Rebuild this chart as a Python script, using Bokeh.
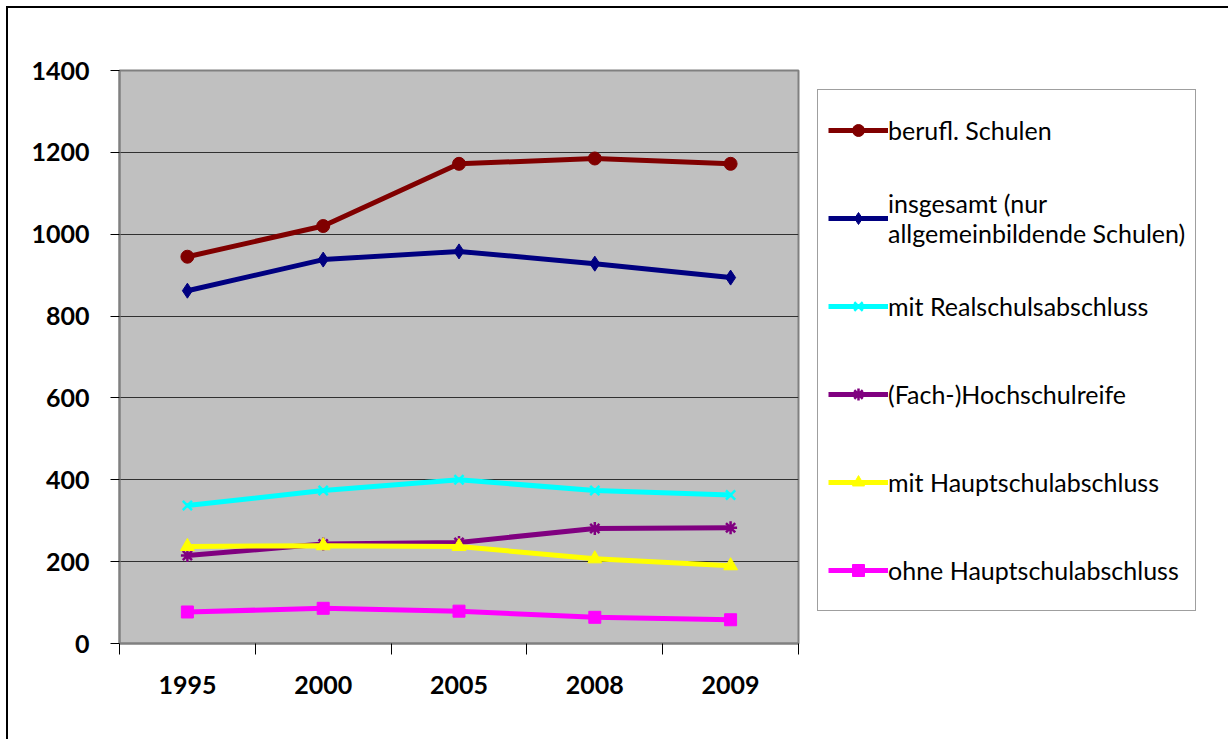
from bokeh.plotting import figure
from bokeh.models import FixedTicker, Legend, LegendItem
from bokeh.embed import file_html
from bokeh.resources import INLINE

years = ["1995", "2000", "2005", "2008", "2009"]
berufl = [945, 1020, 1172, 1185, 1172]
insgesamt = [862, 938, 958, 928, 894]
realschul = [337, 374, 400, 374, 363]
hochschulreife = [215, 243, 247, 281, 283]
hauptschul = [237, 239, 237, 207, 190]
ohne = [77, 86, 79, 64, 58]
y_ticks = [0, 200, 400, 600, 800, 1000, 1200, 1400]

series = [
    ("berufl. Schulen", berufl, "#800000", "circle", 13),
    ("insgesamt (nur\nallgemeinbildende Schulen)", insgesamt, "#000080", "diamond", 15),
    ("mit Realschulsabschluss", realschul, "#00FFFF", "x", 13),
    ("(Fach-)Hochschulreife", hochschulreife, "#800080", "asterisk", 13),
    ("mit Hauptschulabschluss", hauptschul, "#FFFF00", "triangle", 14),
    ("ohne Hauptschulabschluss", ohne, "#FF00FF", "square", 12),
]

n = len(years)
xs = [i + 0.5 for i in range(n)]

p = figure(frame_width=679, frame_height=573, x_range=(0, n), y_range=(0, 1400),
           output_backend="svg", toolbar_location=None,
           min_border_left=111, min_border_top=62, min_border_bottom=96,
           min_border_right=0)
p.styles = {"border-left": "2px solid black", "border-top": "2px solid black",
            "margin-left": "6px", "margin-top": "6px"}
p.background_fill_color = "#C0C0C0"
p.border_fill_color = "white"
p.outline_line_color = "#808080"
p.outline_line_width = 2

# axes
p.xaxis.ticker = FixedTicker(ticks=xs, minor_ticks=list(range(n + 1)))
p.xaxis.major_label_overrides = {x: y for x, y in zip(xs, years)}
p.xaxis.major_tick_out = 0
p.xaxis.major_tick_in = 0
p.xaxis.minor_tick_out = 11
p.xaxis.minor_tick_in = 0
p.xaxis.minor_tick_line_color = "black"
p.xaxis.axis_line_color = "#808080"
p.xaxis.axis_line_width = 2
p.xaxis.major_label_standoff = 21
p.xaxis.major_label_text_font = "Lato"
p.xaxis.major_label_text_font_style = "bold"
p.xaxis.major_label_text_font_size = "25px"
p.xaxis.major_label_text_color = "black"

p.yaxis.ticker = FixedTicker(ticks=y_ticks)
p.yaxis.minor_tick_line_color = None
p.yaxis.major_tick_out = 9
p.yaxis.major_tick_in = 0
p.yaxis.major_tick_line_color = "black"
p.yaxis.axis_line_color = "#808080"
p.yaxis.axis_line_width = 2
p.yaxis.major_label_standoff = 21
p.yaxis.major_label_text_font = "Lato"
p.yaxis.major_label_text_font_style = "bold"
p.yaxis.major_label_text_font_size = "25px"
p.yaxis.major_label_text_color = "black"

p.xgrid.grid_line_color = None
p.ygrid.ticker = FixedTicker(ticks=y_ticks)
p.ygrid.grid_line_color = "#303030"
p.ygrid.grid_line_width = 1

items = []
for label, vals, color, marker, size in series:
    lr = p.line(xs, vals, line_color=color, line_width=5)
    kw = dict(size=size, line_color=color, fill_color=color)
    if marker in ("x", "asterisk"):
        kw["line_width"] = 2.5
    mr = p.scatter(xs, vals, marker=marker, **kw)
    items.append(LegendItem(label=label, renderers=[lr, mr]))

legend = Legend(items=items, location="top_left", margin=19,
                label_text_font="Lato", label_text_font_size="25px",
                label_text_color="black",
                glyph_width=60, glyph_height=30, label_standoff=0,
                label_height=60, spacing=28, padding=10,
                border_line_color="#404040", border_line_width=1,
                background_fill_color="white")
p.add_layout(legend, "right")

open("out.html", "w").write(file_html(p, INLINE))
